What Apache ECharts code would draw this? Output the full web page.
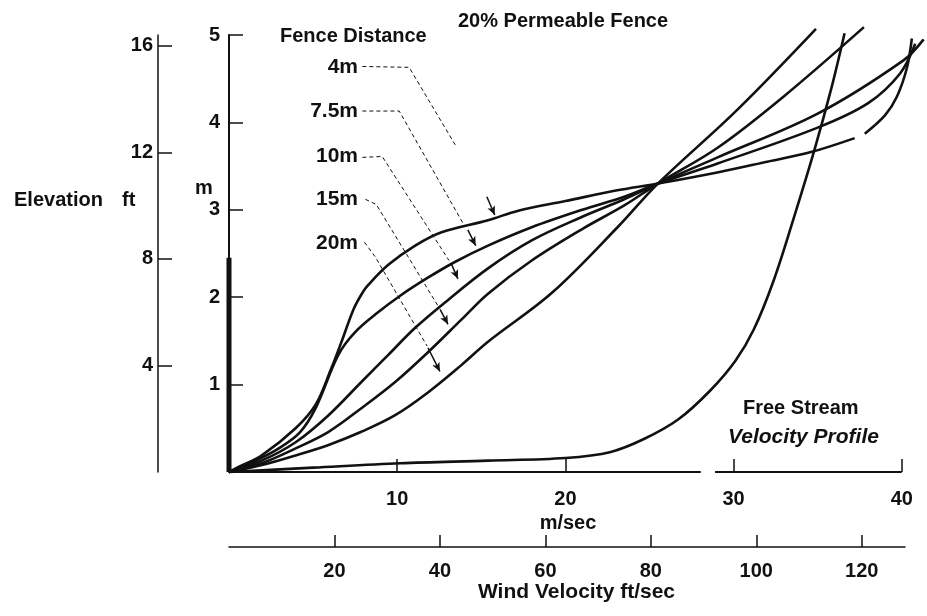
<!DOCTYPE html>
<html>
<head>
<meta charset="utf-8">
<script src="https://cdn.jsdelivr.net/npm/echarts@6/dist/echarts.min.js"></script>
<style>
  html, body { margin: 0; padding: 0; background: #fff; }
  #chart { width: 927px; height: 616px; }
</style>
</head>
<body>
<div id="chart"></div>
<script>
// velocity profiles behind a 20% permeable fence, [wind m/sec, elevation m]
const fence4m = [[0,0],[0.6,0.06],[1.95,0.19],[3.96,0.5],[5.15,0.77],[6.09,1.19],[6.69,1.49],[7.4,1.86],[7.9,2.04],[8.28,2.14],[9.47,2.37],[11.07,2.59],[12.6,2.74],[15.4,2.88],[17.2,2.99],[20,3.1],[23,3.22],[25.5,3.3],[29.1,3.43],[32,3.55],[34.6,3.66],[37.2,3.82],[37.5,'-'],[37.8,3.87],[39,4.08],[39.7,4.29],[40.3,4.62],[40.6,4.96]];
const fence7m = [[0,0],[1.5,0.12],[2.96,0.27],[4.2,0.45],[5.15,0.73],[6.5,1.34],[7.5,1.6],[8.88,1.83],[10.2,2.02],[11.8,2.22],[13.4,2.4],[15.4,2.59],[18,2.8],[21,3.0],[23.5,3.15],[25.5,3.3],[29.05,3.53],[35,3.94],[38,4.22],[39.9,4.56],[40.8,4.9]];
const fence10m = [[0,0],[1.95,0.13],[3.96,0.34],[5.92,0.65],[7.87,1.03],[9.47,1.34],[11.07,1.65],[12.84,1.94],[15.4,2.33],[18,2.65],[21,2.92],[23.5,3.12],[25.5,3.3],[29.05,3.6],[35,4.1],[40.1,4.71],[41.3,4.95]];
const fence15m = [[0,0],[1.95,0.1],[3.96,0.27],[5.92,0.46],[7.87,0.73],[9.88,1.03],[11.83,1.37],[13.8,1.74],[15.4,2.04],[18,2.42],[21,2.78],[23.5,3.05],[25.5,3.3],[29.05,3.71],[33,4.3],[37.75,5.09]];
const fence20m = [[0,0],[1.95,0.08],[3.96,0.19],[5.92,0.31],[7.87,0.46],[9.88,0.65],[11.83,0.91],[13.8,1.22],[15.4,1.49],[19.2,2.05],[23.1,2.8],[25.5,3.3],[30.2,4.14],[34.9,5.07]];
const freeStream = [[0,0],[5,0.05],[10.2,0.1],[15.4,0.13],[20,0.16],[22.7,0.23],[24.7,0.38],[26.7,0.6],[28.6,0.93],[30.1,1.27],[31.2,1.63],[32.4,2.2],[33.6,2.92],[34.8,3.68],[35.8,4.38],[36.6,5.02]];
const fenceBar = [[0,0],[0,2.45]];
// m/sec axis is drawn broken between 28 and 29
const msAxisLine = [[0,0],[28.05,0],[28.5,'-'],[28.9,0],[40,0]];

// leader lines from the fence labels: dashed path, then a short arrow
const leaderNames = ['4m', '7.5m', '10m', '15m', '20m'];
const leaderPaths = [
  [[7.93,4.64],[10.71,4.63],[13.49,3.73]],
  [[7.93,4.13],[10.12,4.13],[14.02,2.81]],
  [[7.93,3.60],[9.11,3.61],[13.08,2.42]],
  [[8.11,3.12],[8.76,3.06],[12.49,1.88]],
  [[8.05,2.63],[8.7,2.46],[11.78,1.44]]
];
const leaderArrows = [
  [[15.33,3.15],[15.8,2.94]],
  [[14.2,2.77],[14.67,2.59]],
  [[13.2,2.39],[13.61,2.21]],
  [[12.55,1.86],[13.02,1.69]],
  [[11.83,1.42],[12.54,1.15]]
];

const msTicks = [10, 20, 30, 40];
const ftsTicks = [20, 40, 60, 80, 100, 120];
const mTicks = [1, 2, 3, 4, 5];
const ftTicks = [4, 8, 12, 16];

const ink = '#111';
const font = 'Liberation Sans, Arial, sans-serif';

const chart = echarts.init(document.getElementById('chart'));

function curve(name, data) {
  return {
    name: name, type: 'line', data: data,
    xAxisIndex: 0, yAxisIndex: 0,
    smooth: 0.35,
    showSymbol: false, symbol: 'none', clip: false,
    lineStyle: { color: ink, width: 2.6 },
    z: 3
  };
}

const series = [
  curve('4m', fence4m),
  curve('7.5m', fence7m),
  curve('10m', fence10m),
  curve('15m', fence15m),
  curve('20m', fence20m),
  curve('Free Stream', freeStream),
  {
    type: 'line', data: fenceBar, symbol: 'none', clip: false,
    lineStyle: { color: ink, width: 5 }, z: 4
  },
  {
    type: 'line', data: msAxisLine, symbol: 'none', clip: false,
    lineStyle: { color: ink, width: 2 }, z: 4
  }
];

leaderPaths.forEach(function (path, i) {
  series.push({
    name: leaderNames[i] + ' leader', type: 'line', data: path,
    symbol: 'none', clip: false,
    lineStyle: { color: ink, width: 1, type: [4, 3] },
    markLine: {
      silent: true,
      symbol: ['none', 'arrow'],
      symbolSize: [6, 9],
      label: { show: false },
      lineStyle: { color: ink, width: 1.5, type: 'solid' },
      data: [[{ coord: leaderArrows[i][0] }, { coord: leaderArrows[i][1] }]]
    },
    z: 2
  });
});

function txt(x, y, text, size, align, style) {
  return {
    type: 'text', x: x, y: y, z: 10,
    style: {
      text: text, fill: ink, font: (style || 'bold') + ' ' + size + 'px ' + font,
      textAlign: align || 'left', textVerticalAlign: 'middle',
      align: align || 'left', verticalAlign: 'middle'
    }
  };
}

const labelYs = [67, 111, 156, 199, 243];

const axisText = { color: ink, fontSize: 20, fontWeight: 'bold', fontFamily: font };

const option = {
  backgroundColor: '#fff',
  animation: false,
  // main plot runs a little past 40 m/sec so the curve ends are not cut
  grid: [
    { left: 229, top: 35, width: 701.35, height: 437 },
    { left: 229, top: 540, width: 676, height: 7 }
  ],
  xAxis: [
    {
      type: 'value', min: 0, max: 41.5, gridIndex: 0, position: 'bottom',
      axisLine: { show: false, onZero: false },
      axisTick: { show: true, inside: true, length: 13, customValues: msTicks, lineStyle: { color: ink, width: 1.5 } },
      axisLabel: Object.assign({ customValues: msTicks, margin: 17 }, axisText),
      splitLine: { show: false },
      name: 'm/sec', nameLocation: 'middle', nameGap: 37,
      nameTextStyle: Object.assign({ padding: [0, 20, 0, 0] }, axisText)
    },
    {
      type: 'value', min: 0, max: 128.2, gridIndex: 1, position: 'bottom',
      axisLine: { show: true, onZero: false, lineStyle: { color: ink, width: 1.5 } },
      axisTick: { show: true, inside: true, length: 12, customValues: ftsTicks, lineStyle: { color: ink, width: 1.5 } },
      axisLabel: Object.assign({ customValues: ftsTicks, margin: 14 }, axisText),
      splitLine: { show: false },
      name: 'Wind Velocity ft/sec', nameLocation: 'middle', nameGap: 34,
      nameTextStyle: Object.assign({ padding: [0, 0, 0, 19] }, axisText, { fontSize: 21 })
    }
  ],
  yAxis: [
    {
      type: 'value', min: 0, max: 5, gridIndex: 0, position: 'left',
      axisLine: { show: true, onZero: false, lineStyle: { color: ink, width: 2 } },
      axisTick: { show: true, inside: true, length: 14, customValues: mTicks, lineStyle: { color: ink, width: 1.5 } },
      axisLabel: Object.assign({ customValues: mTicks, margin: 9 }, axisText),
      splitLine: { show: false }
    },
    {
      type: 'value', min: 0, max: 5 / 0.3048, gridIndex: 0, position: 'left', offset: 71,
      axisLine: { show: true, onZero: false, lineStyle: { color: ink, width: 1.5 } },
      axisTick: { show: true, inside: true, length: 14, customValues: ftTicks, lineStyle: { color: ink, width: 1.5 } },
      axisLabel: Object.assign({ customValues: ftTicks, margin: 5 }, axisText),
      splitLine: { show: false }
    },
    { type: 'value', gridIndex: 1, show: false }
  ],
  graphic: [
    txt(14, 200, 'Elevation', 20),
    txt(122, 200, 'ft', 20),
    txt(195, 188, 'm', 20),
    txt(280, 36, 'Fence Distance', 20),
    txt(458, 21, '20% Permeable Fence', 20),
    txt(743, 408, 'Free Stream', 20),
    txt(728, 437, 'Velocity Profile', 21, 'left', 'italic bold')
  ].concat(leaderNames.map(function (n, i) {
    return txt(358, labelYs[i], n, 21, 'right');
  })),
  series: series
};

chart.setOption(option);
</script>
</body>
</html>
